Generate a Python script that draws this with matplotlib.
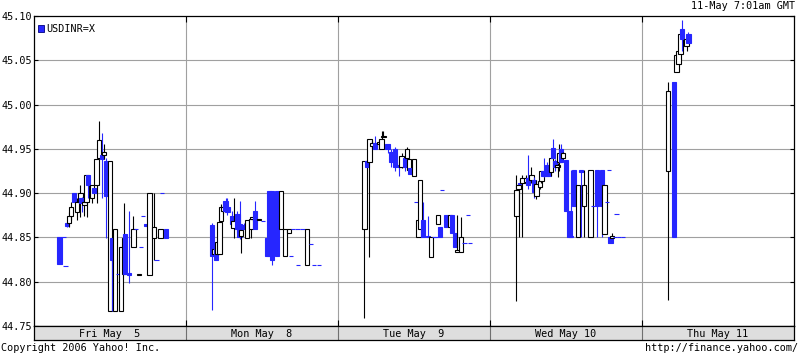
import matplotlib
matplotlib.use('Agg')
import matplotlib.pyplot as plt
from matplotlib.patches import Rectangle

BLUE = '#2626ff'
GRID = '#a0a0a0'
MONO = 'DejaVu Sans Mono'
FS = 7.3

day_labels = ['Fri May  5', 'Mon May  8', 'Tue May  9', 'Wed May 10', 'Thu May 11']
yticks = [44.75, 44.80, 44.85, 44.90, 44.95, 45.00, 45.05, 45.10]

# (hour in day, open, high, low, close)
fri = [
    (4.03, 44.850, 44.850, 44.820, 44.820),
    (4.69, 44.850, 44.850, 44.850, 44.850),
    (4.97, 44.818, 44.818, 44.818, 44.818),
    (5.24, 44.866, 44.867, 44.862, 44.863),
    (5.57, 44.866, 44.879, 44.862, 44.874),
    (5.89, 44.874, 44.890, 44.870, 44.884),
    (6.36, 44.900, 44.900, 44.890, 44.890),
    (6.74, 44.879, 44.894, 44.870, 44.890),
    (7.34, 44.890, 44.909, 44.873, 44.900),
    (7.50, 44.894, 44.896, 44.879, 44.889),
    (7.97, 44.887, 44.893, 44.874, 44.890),
    (8.29, 44.890, 44.920, 44.873, 44.920),
    (8.57, 44.920, 44.920, 44.894, 44.909),
    (9.19, 44.894, 44.909, 44.889, 44.909),
    (9.47, 44.906, 44.906, 44.900, 44.900),
    (9.87, 44.909, 44.938, 44.889, 44.938),
    (10.23, 44.940, 44.981, 44.940, 44.960),
    (10.78, 44.943, 44.968, 44.894, 44.938),
    (11.08, 44.943, 44.956, 44.938, 44.946),
    (11.42, 44.936, 44.940, 44.849, 44.897),
    (12.05, 44.767, 44.936, 44.767, 44.936),
    (12.27, 44.849, 44.849, 44.767, 44.824),
    (12.79, 44.767, 44.859, 44.767, 44.859),
    (13.26, 44.809, 44.809, 44.809, 44.809),
    (13.74, 44.767, 44.839, 44.767, 44.839),
    (14.16, 44.809, 44.889, 44.809, 44.849),
    (14.42, 44.854, 44.854, 44.809, 44.809),
    (15.05, 44.810, 44.880, 44.798, 44.808),
    (15.71, 44.839, 44.874, 44.839, 44.859),
    (16.06, 44.859, 44.859, 44.859, 44.859),
    (16.58, 44.808, 44.809, 44.808, 44.809),
    (16.89, 44.839, 44.839, 44.839, 44.839),
    (17.26, 44.874, 44.874, 44.874, 44.874),
    (17.68, 44.865, 44.865, 44.863, 44.863),
    (18.24, 44.808, 44.900, 44.808, 44.900),
    (18.95, 44.849, 44.900, 44.824, 44.862),
    (19.34, 44.824, 44.824, 44.824, 44.824),
    (19.97, 44.849, 44.859, 44.849, 44.859),
    (20.21, 44.900, 44.900, 44.900, 44.900),
    (20.84, 44.859, 44.859, 44.849, 44.849),
]
mon = [
    (4.07, 44.864, 44.866, 44.768, 44.829),
    (4.37, 44.831, 44.837, 44.829, 44.837),
    (4.71, 44.838, 44.838, 44.824, 44.824),
    (4.97, 44.831, 44.845, 44.831, 44.845),
    (5.29, 44.831, 44.867, 44.831, 44.867),
    (5.53, 44.869, 44.888, 44.867, 44.884),
    (5.84, 44.880, 44.884, 44.878, 44.884),
    (6.24, 44.891, 44.894, 44.880, 44.880),
    (6.55, 44.884, 44.894, 44.875, 44.879),
    (7.23, 44.874, 44.880, 44.862, 44.865),
    (7.50, 44.861, 44.894, 44.849, 44.869),
    (8.13, 44.876, 44.880, 44.855, 44.859),
    (8.45, 44.865, 44.891, 44.848, 44.851),
    (8.65, 44.852, 44.858, 44.832, 44.858),
    (9.13, 44.864, 44.866, 44.859, 44.859),
    (9.60, 44.849, 44.870, 44.849, 44.870),
    (10.23, 44.859, 44.871, 44.849, 44.871),
    (10.50, 44.871, 44.874, 44.869, 44.873),
    (10.86, 44.880, 44.891, 44.859, 44.859),
    (11.53, 44.870, 44.871, 44.870, 44.871),
    (12.16, 44.869, 44.869, 44.869, 44.869),
    (12.76, 44.849, 44.849, 44.829, 44.829),
    (13.07, 44.902, 44.902, 44.829, 44.829),
    (13.53, 44.902, 44.902, 44.819, 44.824),
    (14.32, 44.902, 44.902, 44.829, 44.829),
    (14.97, 44.860, 44.902, 44.860, 44.902),
    (15.60, 44.829, 44.860, 44.829, 44.860),
    (16.31, 44.855, 44.860, 44.855, 44.860),
    (16.58, 44.829, 44.829, 44.829, 44.829),
    (16.89, 44.860, 44.860, 44.860, 44.860),
    (17.60, 44.860, 44.860, 44.860, 44.860),
    (17.68, 44.819, 44.819, 44.819, 44.819),
    (18.40, 44.860, 44.860, 44.860, 44.860),
    (19.15, 44.819, 44.860, 44.819, 44.860),
    (19.74, 44.843, 44.843, 44.843, 44.843),
    (20.21, 44.819, 44.819, 44.819, 44.819),
    (20.99, 44.819, 44.819, 44.819, 44.819),
]
tue = [
    (4.18, 44.860, 44.936, 44.759, 44.936),
    (4.55, 44.936, 44.936, 44.930, 44.930),
    (4.97, 44.935, 44.961, 44.828, 44.961),
    (5.32, 44.953, 44.960, 44.950, 44.957),
    (5.84, 44.957, 44.965, 44.950, 44.950),
    (6.47, 44.955, 44.960, 44.952, 44.958),
    (6.87, 44.950, 44.970, 44.950, 44.961),
    (7.18, 44.963, 44.970, 44.963, 44.964),
    (7.82, 44.956, 44.956, 44.945, 44.950),
    (8.42, 44.947, 44.950, 44.930, 44.935),
    (9.05, 44.950, 44.952, 44.925, 44.930),
    (9.68, 44.932, 44.935, 44.919, 44.930),
    (10.03, 44.930, 44.945, 44.928, 44.942),
    (10.58, 44.940, 44.942, 44.925, 44.930),
    (10.94, 44.940, 44.952, 44.940, 44.950),
    (11.21, 44.926, 44.939, 44.926, 44.939),
    (11.37, 44.928, 44.928, 44.922, 44.922),
    (12.00, 44.919, 44.938, 44.919, 44.938),
    (12.39, 44.890, 44.890, 44.890, 44.890),
    (12.71, 44.850, 44.870, 44.850, 44.870),
    (12.95, 44.860, 44.915, 44.860, 44.915),
    (13.42, 44.870, 44.890, 44.850, 44.850),
    (14.26, 44.852, 44.874, 44.850, 44.850),
    (14.65, 44.828, 44.851, 44.828, 44.851),
    (15.16, 44.850, 44.850, 44.850, 44.850),
    (15.50, 44.851, 44.851, 44.850, 44.850),
    (15.84, 44.865, 44.875, 44.865, 44.875),
    (16.10, 44.862, 44.862, 44.850, 44.850),
    (16.42, 44.903, 44.903, 44.903, 44.903),
    (17.05, 44.875, 44.875, 44.862, 44.862),
    (17.68, 44.862, 44.875, 44.862, 44.875),
    (18.00, 44.875, 44.875, 44.855, 44.855),
    (18.47, 44.855, 44.855, 44.839, 44.839),
    (18.79, 44.834, 44.875, 44.834, 44.836),
    (19.42, 44.834, 44.873, 44.834, 44.851),
    (19.97, 44.844, 44.844, 44.844, 44.844),
    (20.53, 44.875, 44.875, 44.875, 44.875),
    (20.84, 44.844, 44.844, 44.844, 44.844),
]
wed = [
    (4.18, 44.874, 44.921, 44.778, 44.903),
    (4.50, 44.905, 44.911, 44.850, 44.909),
    (4.80, 44.912, 44.912, 44.910, 44.910),
    (5.13, 44.911, 44.920, 44.850, 44.917),
    (5.76, 44.913, 44.920, 44.910, 44.917),
    (6.00, 44.917, 44.943, 44.905, 44.909),
    (6.55, 44.915, 44.930, 44.912, 44.921),
    (6.99, 44.915, 44.918, 44.895, 44.901),
    (7.34, 44.897, 44.915, 44.893, 44.910),
    (7.85, 44.907, 44.916, 44.905, 44.914),
    (8.13, 44.914, 44.925, 44.912, 44.925),
    (8.45, 44.925, 44.940, 44.918, 44.919),
    (9.00, 44.932, 44.935, 44.919, 44.919),
    (9.32, 44.926, 44.928, 44.919, 44.919),
    (9.68, 44.924, 44.940, 44.919, 44.940),
    (9.99, 44.951, 44.961, 44.940, 44.940),
    (10.31, 44.936, 44.938, 44.925, 44.930),
    (10.66, 44.930, 44.934, 44.918, 44.932),
    (10.97, 44.935, 44.956, 44.925, 44.945),
    (11.26, 44.950, 44.956, 44.935, 44.935),
    (11.57, 44.940, 44.947, 44.938, 44.945),
    (11.95, 44.937, 44.937, 44.880, 44.880),
    (12.55, 44.880, 44.880, 44.850, 44.850),
    (12.75, 44.852, 44.926, 44.850, 44.850),
    (13.22, 44.926, 44.926, 44.886, 44.886),
    (13.94, 44.850, 44.909, 44.850, 44.909),
    (14.37, 44.926, 44.926, 44.850, 44.924),
    (14.89, 44.886, 44.926, 44.850, 44.909),
    (15.87, 44.850, 44.926, 44.850, 44.926),
    (16.26, 44.886, 44.886, 44.886, 44.886),
    (16.85, 44.926, 44.926, 44.850, 44.886),
    (17.68, 44.926, 44.926, 44.850, 44.886),
    (18.08, 44.854, 44.909, 44.854, 44.909),
    (18.43, 44.890, 44.890, 44.890, 44.890),
    (18.79, 44.926, 44.926, 44.926, 44.926),
    (19.03, 44.850, 44.850, 44.844, 44.844),
    (19.31, 44.849, 44.855, 44.849, 44.852),
    (19.74, 44.850, 44.850, 44.850, 44.850),
    (19.97, 44.877, 44.877, 44.877, 44.877),
    (20.37, 44.850, 44.850, 44.850, 44.850),
    (21.00, 44.850, 44.850, 44.850, 44.850),
]
thu = [
    (4.15, 44.925, 45.026, 44.779, 45.015),
    (5.10, 45.026, 45.026, 44.850, 44.850),
    (5.45, 45.037, 45.056, 45.037, 45.056),
    (5.76, 45.046, 45.061, 45.046, 45.061),
    (6.08, 45.057, 45.080, 45.057, 45.080),
    (6.30, 45.085, 45.096, 45.060, 45.074),
    (7.03, 45.066, 45.080, 45.060, 45.074),
    (7.34, 45.080, 45.082, 45.069, 45.069),
]
days = [fri, mon, tue, wed, thu]

fig = plt.figure(figsize=(8, 3.55), dpi=100)
ax = fig.add_axes([34 / 800, 29 / 355, 760 / 800, 310 / 355])

w = 0.66
z = 3.0
for d, rows in enumerate(days):
    for hr, o, h, l, c in rows:
        t = d * 24 + hr
        up = c > o
        col = 'black' if up else BLUE
        z += 0.01
        ax.vlines(t, l, h, color=col, lw=0.8, zorder=z)
        if o == c:
            ax.hlines(o, t - w / 2, t + w / 2, color=col, lw=0.8, zorder=z)
        else:
            ax.add_patch(Rectangle((t - w / 2, min(o, c)), w, abs(c - o),
                                   facecolor='white' if up else BLUE,
                                   edgecolor=col, lw=0.8, zorder=z))

ax.set_xlim(0, 120)
ax.set_ylim(44.75, 45.10)
for y in yticks[1:-1]:
    ax.axhline(y, color=GRID, lw=0.8, zorder=1)
for x in [24, 48, 72, 96]:
    ax.axvline(x, color=GRID, lw=0.8, zorder=1)

ax.set_yticks(yticks)
ax.set_yticklabels(['%.2f' % v for v in yticks], fontfamily=MONO, fontsize=FS)
ax.tick_params(axis='y', direction='in', length=3, width=0.8, right=True, pad=1.5)
ax.set_xticks([24, 48, 72, 96])
ax.set_xticklabels([])
ax.tick_params(axis='x', direction='in', length=4, width=0.8, top=True)
for s in ax.spines.values():
    s.set_linewidth(0.9)

ax.add_patch(Rectangle((0.6, 45.082), 1.0, 0.0075, facecolor=BLUE,
                       edgecolor='#000080', lw=0.6, zorder=10))
ax.text(1.9, 45.0855, 'USDINR=X', fontfamily=MONO, fontsize=FS, va='center', zorder=10)

band = fig.add_axes([34 / 800, 15 / 355, 760 / 800, 14 / 355])
band.set_facecolor('#dedede')
band.set_xlim(0, 120)
band.set_ylim(0, 1)
band.set_xticks([])
band.set_yticks([])
for x in [24, 48, 72, 96]:
    band.axvline(x, color='#707070', lw=0.8)
for i, lab in enumerate(day_labels):
    band.text(i * 24 + 12, 0.45, lab, fontfamily=MONO, fontsize=FS,
              ha='center', va='center')
for s in band.spines.values():
    s.set_linewidth(0.9)

fig.text(795 / 800, 1 - 6 / 355, '11-May 7:01am GMT', fontfamily=MONO,
         fontsize=FS, ha='right', va='center')
fig.text(1 / 800, 1 - 348 / 355, 'Copyright 2006 Yahoo! Inc.', fontfamily=MONO,
         fontsize=FS, ha='left', va='center')
fig.text(798 / 800, 1 - 348 / 355, 'http://finance.yahoo.com/', fontfamily=MONO,
         fontsize=FS, ha='right', va='center')

fig.savefig('out.png', dpi=100)
